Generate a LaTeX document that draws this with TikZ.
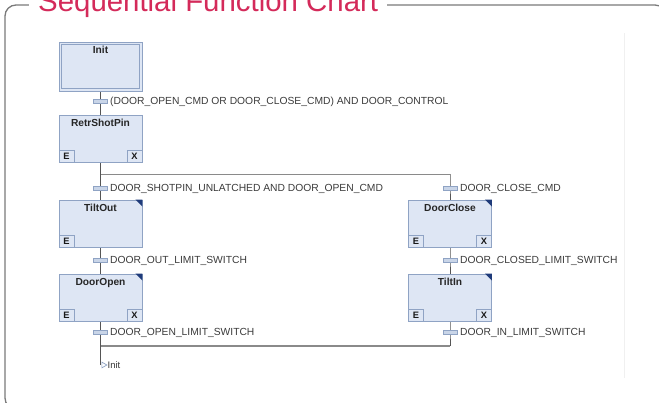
\documentclass[tikz,border=0pt]{standalone}
\usepackage{fontspec}
\setmainfont{Liberation Sans}
\usetikzlibrary{shapes.geometric,calc}
\definecolor{stepfill}{HTML}{DEE6F4}
\definecolor{stepdraw}{HTML}{8FA3C4}
\definecolor{wire}{HTML}{555555}
\definecolor{branch}{HTML}{8A8A8A}
\definecolor{corner}{HTML}{1F3B7A}
\definecolor{titlecol}{HTML}{D42A5A}
\definecolor{txt}{HTML}{3A3A3A}
\definecolor{barfill}{HTML}{C9D5E8}
\definecolor{framecol}{HTML}{7A7A7A}
\pgfdeclarelayer{background}
\pgfsetlayers{background,main}
\begin{document}
\begin{tikzpicture}[x=1pt,y=-1pt,
  stepbox/.style={rectangle, fill=stepfill, draw=stepdraw, line width=0.9pt,
    minimum width=83pt, minimum height=47pt, inner sep=0pt,
    text height=12pt, text depth=35pt,
    font=\fontsize{10.2}{12}\selectfont\bfseries, text=black!85},
  ebox/.style={rectangle, fill=stepfill, draw=stepdraw, line width=0.8pt,
    minimum width=15pt, minimum height=12pt, inner sep=0pt,
    font=\fontsize{9.3}{10}\selectfont\bfseries, text=black!90},
  trans/.style={rectangle, minimum width=14pt, minimum height=4pt, inner sep=0pt,
    fill=barfill, draw=stepdraw, line width=0.6pt},
  tlabel/.style={anchor=west, inner sep=0pt, text height=7.4pt, text depth=0pt,
    font=\fontsize{10.3}{12}\selectfont, text=txt},
  wire/.style={draw=wire, line width=0.9pt},
  branchline/.style={draw=branch, line width=1.3pt},
  cornermark/.style={fill=corner},
]
\useasboundingbox (0,0) rectangle (659,403);

% frame and title
\draw[framecol, line width=1.3pt, rounded corners=11pt] (5,5) rectangle (666,409);
\node[anchor=base west, fill=white, inner xsep=9pt, inner ysep=1pt, text=titlecol,
  font=\fontsize{29.4}{30}\selectfont] (title) at (29,12) {Sequential Function Chart};
\draw[black!6, line width=1pt] (624,33) -- (624,378);

% steps
\node[stepbox, minimum height=49pt, text depth=37pt] (init) at (100.5,66.5) {Init};
\draw[stepdraw, line width=0.8pt] ($(init.north west)+(3,3)$) rectangle ($(init.south east)+(-3,-3)$);
\node[stepbox] (retr) at (100.5,138.5) {RetrShotPin};
\node[stepbox] (tiltout) at (100.5,223.5) {TiltOut};
\node[stepbox] (dooropen) at (100.5,297.5) {DoorOpen};
\node[stepbox] (doorclose) at (450,223.5) {DoorClose};
\node[stepbox] (tiltin) at (450,297.5) {TiltIn};

% E / X boxes
\node[ebox, anchor=south west] (retrE) at (retr.south west) {E};
\node[ebox, anchor=south east] (retrX) at (retr.south east) {X};
\node[ebox, anchor=south west] (tiltoutE) at (tiltout.south west) {E};
\node[ebox, anchor=south west] (dooropenE) at (dooropen.south west) {E};
\node[ebox, anchor=south east] (dooropenX) at (dooropen.south east) {X};
\node[ebox, anchor=south west] (doorcloseE) at (doorclose.south west) {E};
\node[ebox, anchor=south east] (doorcloseX) at (doorclose.south east) {X};
\node[ebox, anchor=south west] (tiltinE) at (tiltin.south west) {E};
\node[ebox, anchor=south east] (tiltinX) at (tiltin.south east) {X};

% corner marks
\foreach \s in {tiltout,dooropen,doorclose,tiltin}{
  \fill[cornermark] (\s.north east) -- ++(-7,0) -- ++(7,7) -- cycle;
}

% branch coordinates
\coordinate (dL) at (100.5,174.5);
\coordinate (dR) at (450,174.5);
\coordinate (cL) at (100.5,346);
\coordinate (cR) at (450,346);
\coordinate (jend) at (100.5,365);

% transitions
\node[trans] (t1) at (100.5,101) {};
\node[trans] (t2L) at (100.5,188) {};
\node[trans] (t2R) at (450,188) {};
\node[trans] (t3L) at (100.5,260) {};
\node[trans] (t3R) at (450,260) {};
\node[trans] (t4L) at (100.5,332) {};
\node[trans] (t4R) at (450,332) {};

\node[tlabel] (l1) at ($(t1.center)+(9.5,0)$) {(DOOR\_OPEN\_CMD OR DOOR\_CLOSE\_CMD) AND DOOR\_CONTROL};
\node[tlabel] (l2L) at ($(t2L.center)+(9.5,0)$) {DOOR\_SHOTPIN\_UNLATCHED AND DOOR\_OPEN\_CMD};
\node[tlabel] (l2R) at ($(t2R.center)+(10,0)$) {DOOR\_CLOSE\_CMD};
\node[tlabel] (l3L) at ($(t3L.center)+(9.5,0)$) {DOOR\_OUT\_LIMIT\_SWITCH};
\node[tlabel] (l3R) at ($(t3R.center)+(10,0)$) {DOOR\_CLOSED\_LIMIT\_SWITCH};
\node[tlabel] (l4L) at ($(t4L.center)+(9.5,0)$) {DOOR\_OPEN\_LIMIT\_SWITCH};
\node[tlabel] (l4R) at ($(t4R.center)+(10,0)$) {DOOR\_IN\_LIMIT\_SWITCH};

% jump
\node[isosceles triangle, isosceles triangle apex angle=60, draw=stepdraw, fill=white,
  line width=0.7pt, inner sep=0pt, minimum size=5pt, anchor=west] (jmp) at (101.5,365) {};
\node[tlabel, text height=7pt, font=\fontsize{9.5}{11}\selectfont] (jlabel) at (107.5,365) {Init};

% connectors
\begin{pgfonlayer}{background}
\draw[wire] (init.south) -- (t1.center) -- (retr.north);
\draw[wire] (retr.south) -- (dL);
\draw[branchline] (dL) -- (dR);
\draw[wire] (dL) -- (t2L.center) -- (tiltout.north);
\draw[wire] (dR) -- (t2R.center) -- (doorclose.north);
\draw[wire] (tiltout.south) -- (t3L.center) -- (dooropen.north);
\draw[wire] (doorclose.south) -- (t3R.center) -- (tiltin.north);
\draw[wire] (dooropen.south) -- (t4L.center) -- (cL) -- (jend);
\draw[wire] (tiltin.south) -- (t4R.center) -- (cR);
\draw[branchline] (cR) -- (cL);
\end{pgfonlayer}
\end{tikzpicture}
\end{document}
